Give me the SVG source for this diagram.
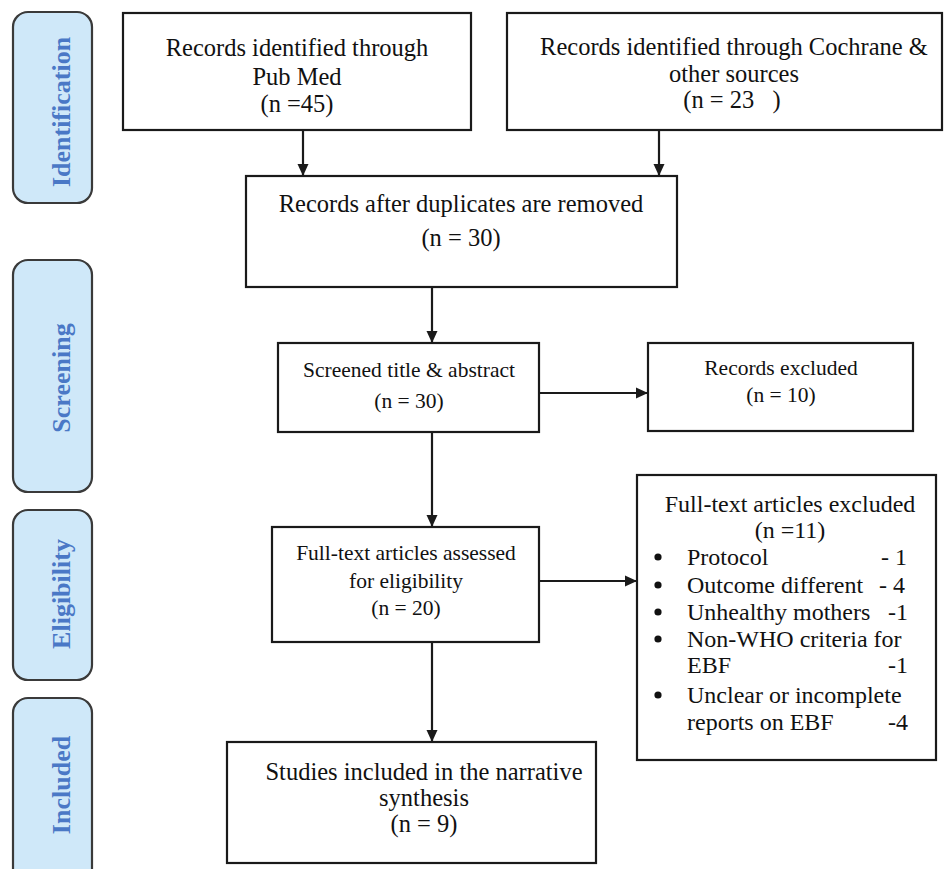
<svg xmlns="http://www.w3.org/2000/svg" width="945" height="869" viewBox="0 0 945 869">
<style>
.side rect{fill:#cfe8f9;stroke:#3a3a3a;stroke-width:2.2}
.side text{font-family:"Liberation Serif",serif;font-weight:bold;font-size:26px;fill:#4a78c6;text-anchor:middle}
.box rect{fill:#fff;stroke:#1a1a1a;stroke-width:2.2}
.box text{font-family:"Liberation Serif",serif;fill:#111;text-anchor:middle}
.c{font-size:24.5px}
.t{font-size:21.5px}
.x{font-size:24px}
.l{text-anchor:start !important}
.r{text-anchor:end !important}
#connectors line{stroke:#1a1a1a;stroke-width:2.2;fill:none}
</style>
<defs>
<marker id="ah" markerUnits="userSpaceOnUse" markerWidth="12" markerHeight="12" viewBox="0 0 12 12" refX="12" refY="6" orient="auto">
<path d="M0,0.5 L12,6 L0,11.5 Z" fill="#1a1a1a"/>
</marker>
</defs>
<rect width="945" height="869" fill="#fff"/>

<g id="phase-identification" class="side">
<rect x="13" y="12" width="79" height="191" rx="15"/>
<text transform="translate(61,112) rotate(-90)" dy="9">Identification</text>
</g>
<g id="phase-screening" class="side">
<rect x="13" y="260" width="79" height="232" rx="15"/>
<text transform="translate(61,378) rotate(-90)" dy="9">Screening</text>
</g>
<g id="phase-eligibility" class="side">
<rect x="13" y="510" width="79" height="170" rx="15"/>
<text transform="translate(61,594) rotate(-90)" dy="9">Eligibility</text>
</g>
<g id="phase-included" class="side">
<rect x="13" y="698" width="79" height="190" rx="15"/>
<text transform="translate(61,785) rotate(-90)" dy="9">Included</text>
</g>

<g id="pubmed" class="box">
<rect x="123" y="13" width="348" height="117"/>
<text class="c" x="297" y="56">Records identified through</text>
<text class="c" x="297" y="85">Pub Med</text>
<text class="c" x="297" y="112">(n =45)</text>
</g>
<g id="cochrane" class="box">
<rect x="507" y="13" width="435" height="117"/>
<text class="c" x="734" y="55">Records identified through Cochrane &amp;</text>
<text class="c" x="734" y="82">other sources</text>
<text class="c" x="732" y="108" xml:space="preserve">(n = 23   )</text>
</g>
<g id="duplicates" class="box">
<rect x="246" y="176" width="431" height="111"/>
<text class="c" x="461" y="212">Records after duplicates are removed</text>
<text class="c" x="461" y="246">(n = 30)</text>
</g>
<g id="screened" class="box">
<rect x="278" y="343" width="261" height="89"/>
<text class="t" x="409" y="377">Screened title &amp; abstract</text>
<text class="t" x="409" y="408">(n = 30)</text>
</g>
<g id="records-excluded" class="box">
<rect x="648" y="343" width="265" height="88"/>
<text class="t" x="781" y="375">Records excluded</text>
<text class="t" x="781" y="402">(n = 10)</text>
</g>
<g id="fulltext-assessed" class="box">
<rect x="272" y="527" width="267" height="115"/>
<text class="t" x="406" y="560">Full-text articles assessed</text>
<text class="t" x="406" y="588">for eligibility</text>
<text class="t" x="406" y="615">(n = 20)</text>
</g>
<g id="fulltext-excluded" class="box">
<rect x="637" y="475" width="299" height="285"/>
<text class="x" x="790" y="512">Full-text articles excluded</text>
<text class="x" x="790" y="538">(n =11)</text>
<circle cx="658" cy="557" r="3.6" fill="#111"/>
<circle cx="658" cy="585" r="3.6" fill="#111"/>
<circle cx="658" cy="612" r="3.6" fill="#111"/>
<circle cx="658" cy="639" r="3.6" fill="#111"/>
<circle cx="658" cy="695" r="3.6" fill="#111"/>
<text class="x l" x="687" y="565">Protocol</text>
<text class="x r" x="907" y="565">- 1</text>
<text class="x l" x="687" y="593">Outcome different</text>
<text class="x r" x="905" y="593">- 4</text>
<text class="x l" x="687" y="620">Unhealthy mothers</text>
<text class="x r" x="908" y="620">-1</text>
<text class="x l" x="687" y="647">Non-WHO criteria for</text>
<text class="x l" x="687" y="673">EBF</text>
<text class="x r" x="908" y="673">-1</text>
<text class="x l" x="687" y="703">Unclear or incomplete</text>
<text class="x l" x="687" y="730">reports on EBF</text>
<text class="x r" x="908" y="730">-4</text>
</g>
<g id="included" class="box">
<rect x="227" y="742" width="369" height="121"/>
<text class="c" x="424" y="780">Studies included in the narrative</text>
<text class="c" x="424" y="806">synthesis</text>
<text class="c" x="424" y="832">(n = 9)</text>
</g>

<g id="connectors">
<line x1="303" y1="131" x2="303" y2="176" marker-end="url(#ah)"/>
<line x1="659" y1="131" x2="659" y2="176" marker-end="url(#ah)"/>
<line x1="432" y1="288" x2="432" y2="343" marker-end="url(#ah)"/>
<line x1="540" y1="393" x2="648" y2="393" marker-end="url(#ah)"/>
<line x1="432" y1="433" x2="432" y2="527" marker-end="url(#ah)"/>
<line x1="540" y1="581" x2="637" y2="581" marker-end="url(#ah)"/>
<line x1="432" y1="643" x2="432" y2="742" marker-end="url(#ah)"/>
</g>
</svg>
